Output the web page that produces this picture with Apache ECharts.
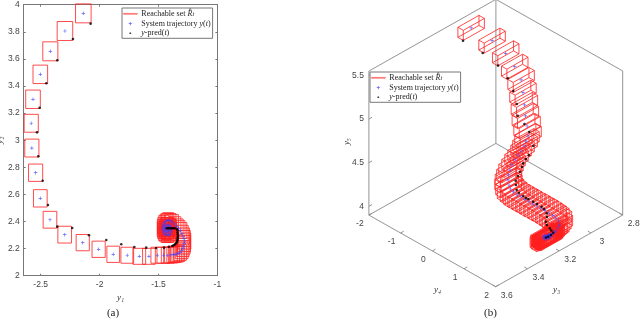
<!DOCTYPE html>
<html><head><meta charset="utf-8">
<style>html,body{margin:0;padding:0;background:#fff}#c{width:640px;height:321px}</style>
<script src="https://cdn.jsdelivr.net/npm/echarts@6/dist/echarts.min.js"></script></head>
<body><div id="c"></div>
<script>
// ---- panel (a) values
const y1Traj=[-2.138,-2.294,-2.418,-2.503,-2.565,-2.580,-2.575,-2.543,-2.503,-2.421,-2.296,-2.143,-2.008,-1.884,-1.765,-1.663,-1.581,-1.510,-1.459,-1.422,-1.394,-1.375,-1.360,-1.345,-1.332,-1.317,-1.303,-1.294,-1.286,-1.282,-1.280,-1.284,-1.292,-1.302,-1.314,-1.329,-1.345,-1.364,-1.385,-1.400,-1.416,-1.428,-1.44,-1.452,-1.46,-1.464,-1.465,-1.462,-1.455,-1.444,-1.43,-1.417,-1.405,-1.396,-1.39,-1.391,-1.395,-1.404,-1.415,-1.428,-1.44,-1.447,-1.45,-1.447,-1.44,-1.43,-1.42,-1.413,-1.41,-1.416,-1.425,-1.432,-1.435];
const y2Traj=[3.936,3.806,3.656,3.486,3.302,3.125,2.942,2.760,2.571,2.413,2.303,2.244,2.195,2.158,2.151,2.143,2.143,2.151,2.151,2.151,2.153,2.155,2.158,2.160,2.163,2.172,2.185,2.201,2.219,2.237,2.256,2.275,2.293,2.313,2.333,2.348,2.362,2.380,2.396,2.404,2.41,2.406,2.40,2.39,2.375,2.36,2.345,2.33,2.315,2.305,2.30,2.301,2.305,2.315,2.33,2.345,2.36,2.369,2.375,2.374,2.37,2.358,2.345,2.334,2.325,2.322,2.325,2.334,2.345,2.351,2.355,2.351,2.345];
const y1Half=[.066,.066,.064,.062,.062,.060,.060,.060,.058,.058,.058,.056,.056,.054,.054,.054,.054,.054,.054,.054,.054,.054,.054,.054,.054,.054,.054,.054,.054,.054,.054,.054,.054,.054,.054,.054,.054,.054,.054,.048,.046,.045,.045,.045,.045,.045,.045,.045,.045,.045,.045,.045,.045,.045,.045,.045,.045,.045,.045,.045,.045,.045,.045,.045,.045,.045,.045,.045,.045,.045,.045,.045,.045];
const y2Half=[.07,.07,.07,.068,.068,.066,.066,.064,.064,.062,.062,.06,.06,.06,.059,.059,.059,.059,.059,.059,.059,.059,.059,.059,.059,.059,.059,.059,.059,.059,.059,.059,.059,.059,.059,.058,.057,.055,.055,.055,.055,.055,.055,.055,.055,.055,.055,.055,.055,.055,.055,.055,.055,.055,.055,.055,.055,.055,.055,.055,.055,.055,.055,.055,.055,.055,.055,.055,.055,.055,.055,.055,.055];
const y1Pred=[-2.076,-2.226,-2.359,-2.452,-2.509,-2.531,-2.520,-2.483,-2.438,-2.359,-2.232,-2.090,-1.943,-1.816,-1.705,-1.604,-1.521,-1.453,-1.411,-1.383,-1.372,-1.360,-1.351,-1.343,-1.34,-1.337,-1.336,-1.335,-1.337,-1.337,-1.338,-1.345,-1.362,-1.373,-1.385,-1.397,-1.41,-1.42,-1.43];
const y2Pred=[3.860,3.747,3.590,3.420,3.240,3.058,2.881,2.701,2.522,2.362,2.352,2.298,2.263,2.232,2.212,2.207,2.204,2.207,2.214,2.219,2.224,2.231,2.24,2.25,2.26,2.27,2.283,2.295,2.308,2.32,2.335,2.345,2.35,2.35,2.35,2.35,2.35,2.35,2.35];
const y1Ticks=[-2.5,-2,-1.5,-1];
// ---- panel (b) values
const y3Traj=[2.966,2.924,2.898,2.881,2.881,2.909,2.920,2.934,2.943,2.957,2.98,3.002,3.031,3.060,3.079,3.108,3.131,3.150,3.163,3.177,3.187,3.188,3.186,3.181,3.176,3.171,3.166,3.160,3.155,3.150,3.145,3.140,3.131,3.125,3.119,3.128,3.141,3.155,3.170,3.186,3.202,3.213,3.224,3.215,3.205,3.21,3.22,3.23,3.225,3.215,3.205,3.2,3.21,3.218,3.226,3.232,3.236,3.228,3.222,3.212,3.204,3.198,3.208,3.216,3.224];
const y4Traj=[-1.95,-1.5,-1.2,-1.0,-.8,-.6,-.5,-.4,-.3,-.2,-.15,-.1,-.05,0,0,.05,.1,.15,.2,.3,.4,.5,.6,.7,.8,.9,1,1.1,1.2,1.3,1.4,1.5,1.55,1.6,1.6,1.6,1.6,1.62,1.65,1.68,1.7,1.7,1.7,1.7,1.72,1.68,1.66,1.7,1.74,1.76,1.7,1.66,1.7,1.72,1.74,1.7,1.68,1.66,1.7,1.73,1.75,1.7,1.68,1.66,1.7];
const y5Traj=[5.404,5.307,5.197,5.067,4.956,4.880,4.772,4.680,4.595,4.515,4.491,4.468,4.450,4.444,4.407,4.390,4.365,4.339,4.305,4.282,4.267,4.255,4.239,4.231,4.217,4.210,4.196,4.188,4.175,4.167,4.154,4.140,4.113,4.083,4.030,4.006,3.984,3.990,3.996,4.006,4.016,4.018,4.021,4.02,4.03,4.01,4.02,4.03,4.03,4.02,4.00,4.01,4.02,4.025,4.015,4.005,4.022,4.032,4.012,4.002,4.022,4.028,4.008,4.018,4.026];
const y3Pred=[3.033,2.999,2.962,2.945,2.950,2.968,2.982,2.960,2.949,2.954,2.991,3.020,3.047,3.065,3.088,3.110,3.135,3.163,3.188,3.204,3.197,3.200,3.195,3.184,3.180,3.171,3.166,3.169,3.188,3.204,3.208,3.199,3.193,3.188,3.202,3.219,3.240];
const y4Pred=[-1.87,-1.42,-1.12,-.9,-.7,-.5,-.4,-.3,-.2,-.05,0,.05,.1,.15,.2,.25,.3,.45,.6,.75,.85,.95,1.0,1.1,1.2,1.3,1.35,1.45,1.55,1.6,1.65,1.7,1.72,1.75,1.75,1.75,1.78];
const y5Pred=[5.342,5.259,5.138,5.021,4.921,4.832,4.732,4.636,4.553,4.429,4.370,4.368,4.356,4.342,4.322,4.307,4.288,4.299,4.298,4.310,4.290,4.290,4.284,4.262,4.252,4.232,4.212,4.186,4.183,4.155,4.132,4.095,4.068,4.043,4.033,4.031,4.048];
const y3Half=.0665, y4Half=.085, y5Half=.0575;
const y3Lim=[2.8,3.6], y4Lim=[-2,2], y5Lim=[3.9,5.55];
const y3Ticks=[2.8,3,3.2,3.4,3.6], y4Ticks=[-2,-1,0,1,2], y5Ticks=[4,4.5,5,5.5];
const seriesNames=['Reachable set','System trajectory','y-pred'];

// oblique view of the 3-D box, in screen units of the full-page axes
function project(y3,y4,y5){
  return [495.7+(3.6-y3)*158.75-(2-y4)*31.7, 286.7-(3.6-y3)*89.6-(2-y4)*17.9-(y5-3.9)*87.3];
}
const RED='#ff2020', BLUE='#4040ff', BLACK='#000';
const plusSym='path://M2,0h1v2h2v1h-2v2h-1v-2h-2v-1h2z';
const lineIcon='path://M0 0L.001 0ZM14 8L14 7.999ZM0 3.6H14V4.4H0Z';
const plusIcon='path://M0 0L.001 0ZM14 8L14 7.999ZM6.6 2.4H7.4V3.6H8.6V4.4H7.4V5.6H6.6V4.4H5.4V3.6H6.6Z';
const dotIcon='path://M0 0L.001 0ZM14 8L14 7.999ZM6.2 3.2H7.8V4.8H6.2Z';

const rects=y1Traj.map((v,i)=>[v,y2Traj[i],y1Half[i],y2Half[i]]);
const boxes=y3Traj.map((v,i)=>[v,y4Traj[i],y5Traj[i]]);

const frameSeg=[];
const [a0,a1]=y3Lim,[b0,b1]=y4Lim,[c0,c1]=y5Lim;
[[a1,b0,c1,a0,b0,c1],[a0,b0,c1,a0,b1,c1],[a1,b0,c0,a1,b0,c1],[a0,b1,c0,a0,b1,c1],[a0,b0,c0,a0,b0,c1],
 [a0,b0,c0,a1,b0,c0],[a0,b0,c0,a0,b1,c0],[a1,b0,c0,a1,b1,c0],[a1,b1,c0,a0,b1,c0]].forEach(s=>frameSeg.push(s));
y3Ticks.forEach(t=>frameSeg.push([t,b1,c0,t,b1-.1,c0]));
y4Ticks.forEach(t=>frameSeg.push([a1,t,c0,a1-.02,t,c0]));
y5Ticks.forEach(t=>frameSeg.push([a1,b0,t,a1-.02,b0,t]));

const frameText=[];
y3Ticks.forEach(t=>{const p=project(t,b1,c0);frameText.push({n:String(t),x:p[0]+11,y:p[1]+8.5,a:'center'})});
y4Ticks.forEach(t=>{const p=project(a1,t,c0);frameText.push({n:String(t),x:p[0]-9,y:p[1]+8.5,a:'center'})});
y5Ticks.forEach(t=>{const p=project(a1,b0,t);frameText.push({n:String(t),x:p[0]-5,y:p[1],a:'right'})});

const legendRed={color:'#ff6060',borderColor:'#ff6060',borderWidth:.6};
const option={
  animation:false,backgroundColor:'#fff',
  textStyle:{fontFamily:'Liberation Sans'},
  title:[
    {text:'(a)',left:113,top:308,textAlign:'center',textStyle:{fontFamily:'Liberation Serif',fontSize:11,fontWeight:'normal',color:'#222'},padding:0},
    {text:'(b)',left:490.5,top:308,textAlign:'center',textStyle:{fontFamily:'Liberation Serif',fontSize:11,fontWeight:'normal',color:'#222'},padding:0}
  ],
  grid:[
    {left:23.7,top:4.7,width:193.7,height:271,outerBoundsMode:'none'},
    {left:0,top:0,width:640,height:321,outerBoundsMode:'none'}
  ],
  xAxis:[
    {gridIndex:0,type:'value',min:-2.644,max:-1,name:'y\u2081',nameLocation:'middle',nameGap:14,
      nameTextStyle:{fontFamily:'Liberation Serif',fontStyle:'italic',fontSize:9,color:'#333'},
      axisLine:{lineStyle:{color:'#777',width:1}},splitLine:{show:false},
      axisTick:{inside:true,length:2,customValues:y1Ticks,lineStyle:{color:'#777'}},
      axisLabel:{customValues:y1Ticks,fontSize:8.5,color:'#444',margin:4,showMinLabel:true,showMaxLabel:true}},
    {gridIndex:0,type:'value',position:'top',min:-2.644,max:-1,
      axisLine:{lineStyle:{color:'#777',width:1}},splitLine:{show:false},
      axisTick:{inside:true,length:2,customValues:y1Ticks,lineStyle:{color:'#777'}},axisLabel:{show:false}},
    {gridIndex:1,type:'value',min:0,max:640,show:false}
  ],
  yAxis:[
    {gridIndex:0,type:'value',min:2,max:4,interval:.2,name:'y\u2082',nameLocation:'middle',nameGap:15,nameRotate:90,
      nameTextStyle:{fontFamily:'Liberation Serif',fontStyle:'italic',fontSize:9,color:'#333'},
      axisLine:{lineStyle:{color:'#777',width:1}},splitLine:{show:false},
      axisTick:{inside:true,length:2,lineStyle:{color:'#777'}},
      axisLabel:{fontSize:8.5,color:'#444',margin:4,formatter:v=>String(+v.toFixed(1))}},
    {gridIndex:0,type:'value',position:'right',min:2,max:4,interval:.2,
      axisLine:{lineStyle:{color:'#777',width:1}},splitLine:{show:false},
      axisTick:{inside:true,length:2,lineStyle:{color:'#777'}},axisLabel:{show:false}},
    {gridIndex:1,type:'value',min:0,max:321,inverse:true,show:false}
  ],
  legend:[0,1].map(k=>({
    left:k?370:122,top:k?72:8,orient:'vertical',itemGap:1.6,itemWidth:14,itemHeight:8,
    padding:[1.5,2,1,1],backgroundColor:'#fff',borderColor:'#777',borderWidth:1,selectedMode:false,
    data:[{name:seriesNames[0],icon:lineIcon,itemStyle:legendRed,lineStyle:{color:'#ff6060'}},
          {name:seriesNames[1],icon:plusIcon,itemStyle:{color:BLUE,borderWidth:0}},
          {name:seriesNames[2],icon:dotIcon,itemStyle:{color:BLACK,borderWidth:0}}],
    formatter:n=>n===seriesNames[0]?'Reachable set {i|R\u0302}{s|t}':n===seriesNames[1]?'System trajectory {i|y}({i|t})':'{i|y}-pred({i|t})',
    textStyle:{fontFamily:'Liberation Serif',fontSize:8,color:'#222',padding:[0,0,0,-1],
      rich:{i:{fontFamily:'Liberation Serif',fontStyle:'italic',fontSize:8,color:'#222'},s:{fontFamily:'Liberation Serif',fontStyle:'italic',fontSize:6,color:'#222',verticalAlign:'bottom'}}}
  })),
  series:[
    {type:'custom',name:seriesNames[0],xAxisIndex:0,yAxisIndex:0,data:rects,clip:false,silent:true,itemStyle:{color:RED},
      renderItem:(p,api)=>{
        const x=api.value(0),y=api.value(1),w=api.value(2),h=api.value(3);
        const a=api.coord([x-w,y+h]),b=api.coord([x+w,y-h]);
        return {type:'rect',shape:{x:a[0],y:a[1],width:b[0]-a[0],height:b[1]-a[1]},style:{fill:'none',stroke:RED,lineWidth:.8}};
      }},
    {type:'scatter',name:seriesNames[1],xAxisIndex:0,yAxisIndex:0,symbol:plusSym,symbolSize:3.5,silent:true,itemStyle:{color:BLUE},
      data:y1Traj.map((v,i)=>[v,y2Traj[i]])},
    {type:'scatter',name:seriesNames[2],xAxisIndex:0,yAxisIndex:0,symbol:'circle',symbolSize:2.6,silent:true,itemStyle:{color:BLACK},
      data:y1Pred.map((v,i)=>[v,y2Pred[i]])},
    {type:'custom',xAxisIndex:2,yAxisIndex:2,data:frameSeg,silent:true,
      renderItem:(p,api)=>{
        const s=[0,1,2,3,4,5].map(i=>api.value(i));
        const a=api.coord(project(s[0],s[1],s[2])),b=api.coord(project(s[3],s[4],s[5]));
        return {type:'line',shape:{x1:a[0],y1:a[1],x2:b[0],y2:b[1]},style:{stroke:'#888',lineWidth:.9}};
      }},
    {type:'custom',xAxisIndex:2,yAxisIndex:2,silent:true,data:frameText.map(t=>[t.x,t.y]),
      renderItem:(p,api)=>{
        const t=frameText[p.dataIndex],c=api.coord([t.x,t.y]);
        return {type:'text',x:c[0],y:c[1],style:{text:t.n,fill:'#444',fontSize:8.5,fontFamily:'Liberation Sans',textAlign:t.a,textVerticalAlign:'middle'}};
      }},
    {type:'custom',name:seriesNames[0],xAxisIndex:2,yAxisIndex:2,data:boxes,silent:true,itemStyle:{color:RED},
      renderItem:(p,api)=>{
        const x=api.value(0),y=api.value(1),z=api.value(2);
        const pt=(i,j,k)=>api.coord(project(x+i*y3Half,y+j*y4Half,z+k*y5Half));
        const V=[pt(-1,-1,-1),pt(1,-1,-1),pt(1,1,-1),pt(-1,1,-1),pt(-1,-1,1),pt(1,-1,1),pt(1,1,1),pt(-1,1,1)];
        const E=[[0,1],[1,2],[2,3],[3,0],[4,5],[5,6],[6,7],[7,4],[0,4],[1,5],[2,6],[3,7]];
        return {type:'group',children:E.map(e=>({type:'line',shape:{x1:V[e[0]][0],y1:V[e[0]][1],x2:V[e[1]][0],y2:V[e[1]][1]},style:{stroke:RED,lineWidth:.8}}))};
      }},
    {type:'scatter',name:seriesNames[1],xAxisIndex:2,yAxisIndex:2,symbol:plusSym,symbolSize:3.5,silent:true,itemStyle:{color:BLUE},
      data:y3Traj.map((v,i)=>project(v,y4Traj[i],y5Traj[i]))},
    {type:'scatter',name:seriesNames[2],xAxisIndex:2,yAxisIndex:2,symbol:'circle',symbolSize:2.6,silent:true,itemStyle:{color:BLACK},
      data:y3Pred.map((v,i)=>project(v,y4Pred[i],y5Pred[i]))}
  ],
  graphic:[
    {type:'text',left:342,top:138,rotation:Math.PI/2,style:{text:'y\u2085',fontFamily:'Liberation Serif',fontStyle:'italic',fontSize:9,fill:'#333'}},
    {type:'text',left:434,top:285,style:{text:'y\u2084',fontFamily:'Liberation Serif',fontStyle:'italic',fontSize:9,fill:'#333'}},
    {type:'text',left:553,top:285,style:{text:'y\u2083',fontFamily:'Liberation Serif',fontStyle:'italic',fontSize:9,fill:'#333'}}
  ]
};
echarts.init(document.getElementById('c'),null,{renderer:'canvas'}).setOption(option);
</script></body></html>
